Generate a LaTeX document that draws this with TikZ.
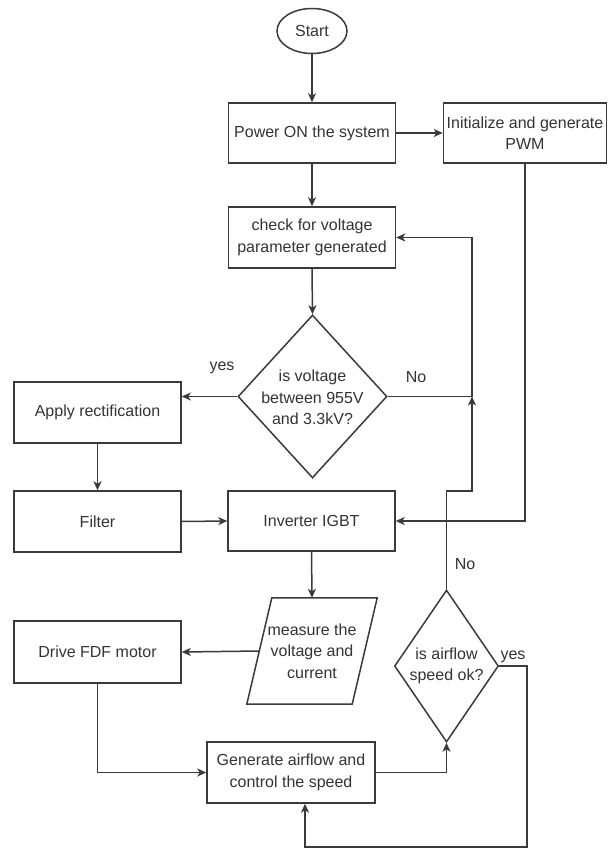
\documentclass[tikz,border=0pt]{standalone}
\usepackage{fontspec}
\setmainfont{Liberation Sans}
\usetikzlibrary{shapes.geometric,arrows.meta}
\definecolor{ln}{HTML}{3a3a3a}
\definecolor{tx}{HTML}{333333}
\tikzset{
  every node/.style={font=\fontsize{16}{21.5}\selectfont, text=tx},
  box/.style={draw=ln, line width=1.5pt, rectangle, inner sep=0pt, align=center},
  dia/.style={draw=ln, line width=1.5pt, diamond, inner sep=0pt, align=center},
  oval/.style={draw=ln, line width=1.5pt, ellipse, inner sep=0pt},
  conn/.style={draw=ln, line width=1.5pt, -{Stealth[length=9pt,width=8pt,inset=2.5pt]}},
  plain/.style={draw=ln, line width=1.5pt},
  lbl/.style={inner sep=0pt}
}
\begin{document}
\begin{tikzpicture}[x=1pt,y=-1pt]
\useasboundingbox (0,0) rectangle (608,850);
% nodes
\node[oval, minimum width=70pt, minimum height=45pt] (start) at (312,31) {Start};
\node[box, minimum width=167pt, minimum height=60pt] (power) at (312,133) {Power ON the system};
\node[box, minimum width=163pt, minimum height=60pt] (init) at (525,133) {Initialize and generate\\PWM};
\node[box, minimum width=167pt, minimum height=61pt] (check) at (312,237.5) {check for voltage\\parameter generated};
\node[dia, minimum width=149pt, minimum height=163pt] (d1) at (312.5,396.5) {};
\node[lbl, align=center] at (312.5,397.5) {is voltage\\between 955V\\and 3.3kV?};
\node[box, minimum width=167pt, minimum height=61pt] (apply) at (97.5,412.5) {Apply rectification};
\node[box, minimum width=167pt, minimum height=61pt] (filter) at (97.5,521.5) {Filter};
\node[box, minimum width=167pt, minimum height=60pt] (inv) at (311.5,521) {Inverter IGBT};
\node[rectangle, inner sep=0pt, minimum width=105pt, minimum height=106pt, align=center] (meas) at (312,651) {measure the\\voltage and\\current};
\draw[plain] ([xshift=-12.5pt]meas.south west) -- ([xshift=12.5pt]meas.north west) -- ([xshift=12.5pt]meas.north east) -- ([xshift=-12.5pt]meas.south east) -- cycle;
\node[box, minimum width=167pt, minimum height=62pt] (drive) at (97.5,652) {Drive FDF motor};
\node[dia, minimum width=104pt, minimum height=152pt] (d2) at (446.5,666) {};
\node[lbl, align=center] at (446.5,666) {is airflow\\speed ok?};
\node[box, minimum width=168pt, minimum height=61pt] (gen) at (291,772.5) {Generate airflow and\\control the speed};
% helper coordinates
\coordinate (j1) at (472,396.5);
\coordinate (j2) at (472,237.5);
\coordinate (j3) at (446.5,491);
\coordinate (j4) at (472,491);
\coordinate (p1) at (525,521);
\coordinate (q1) at (97.5,772.5);
\coordinate (r1) at (446.5,772.5);
\coordinate (y1) at (527,666);
\coordinate (y2) at (527,847);
\coordinate (y3) at (305,847);
% connectors
\draw[conn] (start.south) -- (power.north);
\draw[conn] (power.east) -- (init.west);
\draw[conn] (power.south) -- (check.north);
\draw[conn] (check.south) -- (d1.north);
\draw[conn] (d1.west) -- (d1.west -| apply.east);
\draw[conn] (d1.east) -- (j1) -- (j2) -- (check.east);
\draw[conn] (apply.south) -- (filter.north);
\draw[conn] (filter.east) -- (inv.west);
\draw[conn] (init.south) -- (p1) -- (inv.east);
\draw[conn] (inv.south) -- (meas.north);
\draw[conn] (meas.west) -- (drive.east);
\draw[conn] (drive.south) -- (q1) -- (gen.west);
\draw[conn] (gen.east) -- (r1) -- (d2.south);
\draw[conn] (d2.north) -- (j3) -- (j4) -- (j1);
\draw[conn] (d2.east) -- (y1) -- (y2) -- (y3) -- (y3 |- gen.south);
% labels
\node[lbl] at (222,368) {yes};
\node[lbl] at (416,377) {No};
\node[lbl] at (465,564) {No};
\node[lbl] at (513,657) {yes};
\end{tikzpicture}
\end{document}
